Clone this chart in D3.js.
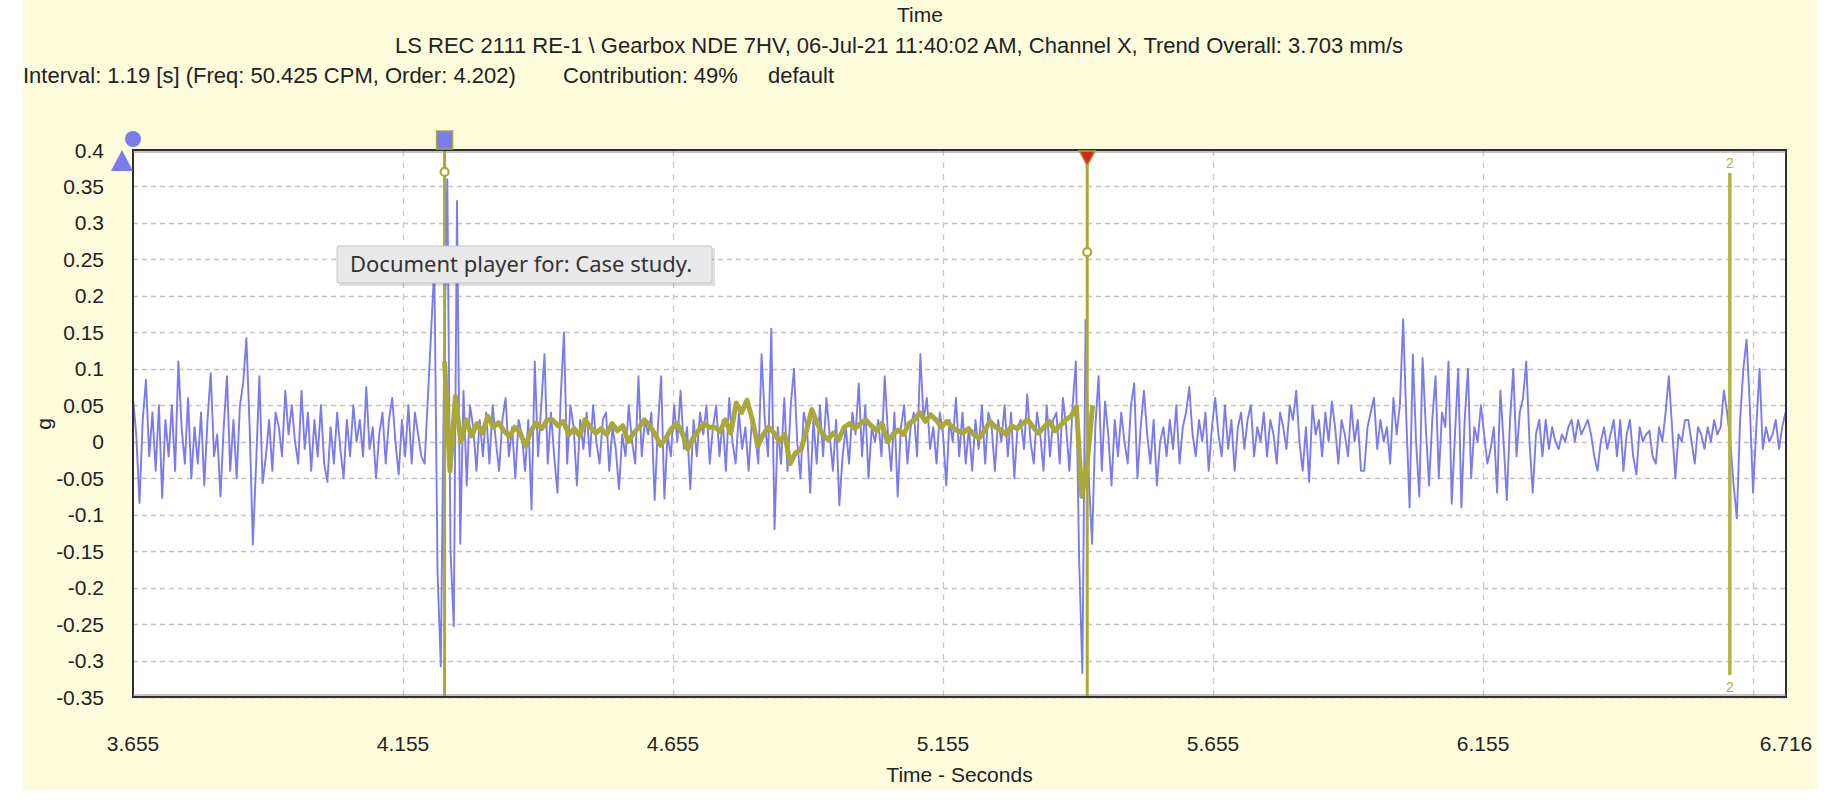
<!DOCTYPE html>
<html>
<head>
<meta charset="utf-8">
<script src="https://cdn.jsdelivr.net/npm/d3@7"></script>
<style>
  body { margin: 0; background: #fff; }
  svg text { font-family: "Liberation Sans", Arial, sans-serif; fill: #222; }
</style>
</head>
<body>
<svg id="chart" width="1830" height="812"></svg>
<script>
// ---- data ----
const titleLines = [
  "Time",
  "LS REC 2111 RE-1 \\ Gearbox NDE 7HV, 06-Jul-21 11:40:02 AM, Channel X, Trend Overall: 3.703 mm/s"
];
const infoParts = ["Interval: 1.19 [s] (Freq: 50.425 CPM, Order: 4.202)", "Contribution: 49%", "default"];
const xTitle = "Time - Seconds";
const yTitle = "g";
const tooltipText = "Document player for: Case study.";

const xDomain = [3.655, 6.716];
const yDomain = [-0.35, 0.4];
const xTickValues = [3.655, 4.155, 4.655, 5.155, 5.655, 6.155, 6.716];
const xTickLabels = ["3.655", "4.155", "4.655", "5.155", "5.655", "6.155", "6.716"];
const xGridValues = [4.155, 4.655, 5.155, 5.655, 6.155, 6.655];
const yTickValues = [0.4, 0.35, 0.3, 0.25, 0.2, 0.15, 0.1, 0.05, 0, -0.05, -0.1, -0.15, -0.2, -0.25, -0.3, -0.35];

// raw waveform, sampled every rawStep seconds from rawStart
const rawStart = 3.655;
const rawStep = 0.006;
const rawSignal = [
  0.06, 0.01, -0.084, 0.03, 0.085, -0.02, 0.04, -0.04, 0.05, -0.077,
  0.03, -0.02, 0.05, -0.04, 0.11, 0.02, -0.03, 0.06, -0.05, 0.02,
  -0.03, 0.04, -0.06, 0.03, 0.094, -0.02, 0.01, -0.075, 0.02, 0.09,
  -0.04, 0.03, -0.05, 0.05, 0.08, 0.142, 0.02, -0.141, -0.03, 0.09,
  -0.057, -0.02, 0.03, -0.04, 0.04, 0.02, -0.02, 0.07, 0.01, 0.05,
  0.0, -0.03, 0.07, -0.01, 0.04, -0.04, 0.03, -0.02, 0.05, -0.03,
  -0.055, 0.02, -0.03, 0.04, -0.01, -0.05, 0.03, -0.02, 0.05, 0.0,
  0.03, -0.02, 0.075, -0.01, 0.02, -0.05, 0.01, 0.04, -0.03, 0.03,
  0.06, 0.0, -0.045, 0.03, -0.02, 0.05, -0.03, 0.04, 0.01, -0.02,
  -0.03, 0.06, 0.15, 0.24, -0.18, -0.308, 0.1, 0.36, -0.15, -0.253,
  0.33, -0.14, 0.07, -0.06, 0.05, 0.02, -0.04, 0.03, -0.02, 0.04,
  -0.03, 0.05, 0.0, -0.04, 0.03, 0.06, -0.02, 0.02, -0.05, 0.03,
  0.01, -0.04, 0.03, -0.093, 0.11, -0.02, 0.05, 0.12, -0.03, 0.04,
  -0.02, -0.07, 0.06, 0.15, -0.03, 0.05, 0.02, -0.06, 0.03, -0.01,
  0.04, -0.02, 0.05, 0.0, -0.03, 0.03, 0.04, -0.04, 0.02, -0.01,
  -0.065, 0.01, -0.02, 0.05, 0.0, -0.03, 0.09, -0.02, 0.03, 0.01,
  0.04, -0.08, 0.02, 0.09, -0.078, 0.01, -0.02, 0.05, 0.0, 0.07,
  -0.01, 0.02, -0.065, 0.03, -0.02, 0.04, 0.01, 0.05, -0.03, 0.02,
  0.05, -0.02, 0.03, -0.04, 0.06, 0.0, -0.03, 0.04, -0.01, 0.02,
  -0.04, 0.03, 0.01, -0.03, 0.12, 0.03, -0.02, 0.155, -0.12, 0.02,
  -0.03, 0.06, -0.04, 0.05, 0.1, 0.0, -0.05, 0.04, 0.02, -0.07,
  0.03, -0.03, 0.05, -0.02, 0.06, 0.01, -0.04, 0.03, -0.087, -0.02,
  0.02, -0.03, 0.04, 0.01, 0.08, -0.02, 0.05, -0.05, 0.02, 0.0,
  0.03, -0.02, 0.09, 0.01, -0.04, 0.04, -0.075, 0.02, 0.05, -0.03,
  0.02, 0.04, -0.02, 0.12, 0.03, 0.06, -0.01, 0.02, -0.03, 0.04,
  0.01, -0.06, 0.03, 0.0, 0.06, -0.02, 0.04, -0.03, 0.02, -0.04,
  0.03, -0.01, 0.05, -0.03, 0.04, 0.02, -0.04, 0.03, 0.0, 0.05,
  -0.02, 0.04, -0.05, 0.02, 0.03, -0.01, 0.065, 0.0, -0.03, 0.04,
  0.01, -0.04, 0.05, -0.02, 0.03, 0.04, -0.03, 0.06, 0.02, -0.04,
  0.05, 0.11, -0.16, -0.317, 0.167, -0.05, -0.14, 0.02, 0.09, -0.04,
  0.055, 0.01, -0.06, 0.03, -0.02, 0.04, 0.0, -0.03, 0.05, 0.08,
  -0.05, 0.02, 0.07, 0.01, -0.03, 0.03, -0.06, 0.0, 0.02, -0.02,
  0.03, -0.01, 0.05, -0.03, 0.02, 0.04, 0.075, 0.01, -0.02, 0.03,
  0.0, 0.04, -0.04, 0.02, 0.06, 0.01, -0.02, 0.05, -0.01, 0.03,
  -0.04, 0.02, 0.04, -0.01, 0.03, 0.05, -0.02, 0.02, 0.0, 0.04,
  -0.02, 0.03, 0.01, -0.03, 0.04, 0.02, -0.01, 0.05, 0.03, 0.07,
  0.0, -0.04, 0.02, -0.055, 0.05, 0.01, 0.03, -0.02, 0.04, 0.0,
  0.055, 0.02, -0.03, 0.03, 0.01, -0.02, 0.05, 0.0, 0.03, -0.04,
  -0.04, 0.02, 0.04, 0.06, -0.01, 0.03, 0.0, 0.02, -0.03, 0.06,
  0.01, 0.05, 0.168, 0.03, -0.09, 0.12, 0.0, -0.075, 0.115, 0.02,
  -0.06, 0.03, 0.09, -0.05, 0.04, 0.02, 0.11, -0.085, 0.01, 0.1,
  -0.09, 0.03, 0.1, -0.05, 0.02, 0.0, 0.05, 0.01, -0.03, -0.01,
  0.02, -0.07, 0.07, 0.0, -0.08, 0.03, 0.1, -0.02, 0.04, 0.06,
  0.11, 0.0, -0.07, 0.01, 0.03, -0.02, 0.03, -0.01, 0.02, 0.0,
  -0.01, 0.01, 0.0, 0.02, 0.03, 0.0, 0.03, 0.01, 0.02, 0.03,
  0.01, -0.02, -0.04, 0.0, 0.02, -0.01, 0.01, 0.03, -0.02, 0.03,
  -0.04, 0.01, 0.03, -0.02, -0.045, 0.02, 0.0, 0.01, 0.015, -0.02,
  -0.03, 0.02, 0.0, 0.04, 0.09, 0.02, -0.05, 0.01, 0.0, 0.03,
  0.03, 0.0, -0.03, 0.02, 0.01, -0.01, 0.02, 0.0, 0.03, 0.01,
  0.02, 0.07, 0.04, 0.0, -0.06, -0.105, 0.03, 0.1, 0.14, 0.05,
  -0.07, 0.02, 0.1, -0.01, 0.02, 0.0, 0.01, 0.03, -0.01, 0.02,
  0.04
];

// averaged waveform between the two cursors
const avgStart = 4.232;
const avgStep = 0.01;
const avgSignal = [
  0.11, -0.04, 0.062, 0.0, 0.03, 0.008, 0.025, 0.012, 0.035, 0.02,
  0.026, 0.015, 0.007, 0.02, 0.012, -0.006, 0.015, 0.026, 0.018, 0.03,
  0.03, 0.022, 0.028, 0.01, 0.018, 0.008, 0.03, 0.02, 0.012, 0.018,
  0.01, 0.025, 0.015, 0.022, 0.0, 0.012, 0.02, 0.03, 0.022, 0.01,
  -0.005, 0.005, 0.018, 0.025, 0.012, -0.01, 0.005, 0.015, 0.025, 0.02,
  0.02, 0.014, 0.03, 0.012, 0.053, 0.04, 0.057, 0.03, -0.006, 0.01,
  0.02, 0.012, 0.0, 0.01, -0.03, -0.015, -0.011, 0.015, 0.044, 0.025,
  0.01, 0.003, 0.012, 0.003, 0.02, 0.025, 0.018, 0.025, 0.03, 0.022,
  0.015, 0.025, 0.0, 0.01, 0.016, 0.01, 0.025, 0.03, 0.04, 0.028,
  0.037, 0.03, 0.02, 0.028, 0.02, 0.015, 0.012, 0.018, 0.01, 0.005,
  0.015, 0.028, 0.02, 0.016, 0.01, 0.022, 0.018, 0.025, 0.03, 0.02,
  0.012, 0.02, 0.028, 0.015, 0.022, 0.03, 0.035, 0.048, -0.075, -0.03,
  0.05
];

const cursorTimes = [4.232, 5.422];
const cursorReadouts = [0.37, 0.26];
const harmonicTimes = [6.612];
const harmonicLabels = ["2"];

// ---- layout ----
const svg = d3.select("#chart");
const plot = { left: 133, right: 1786, top: 150, bottom: 697 };

const x = d3.scaleLinear().domain(xDomain).range([plot.left, plot.right]);
const y = d3.scaleLinear().domain(yDomain).range([plot.bottom, plot.top]);

const olive = "#a9a838";
const blue = "#7b7bf0";

// yellow panel
svg.append("rect")
  .attr("x", 23).attr("y", 0)
  .attr("width", 1795).attr("height", 790)
  .attr("fill", "#fcfcdc");

// titles
svg.append("text").attr("x", 920).attr("y", 22)
  .attr("text-anchor", "middle").style("font-size", "21px").text(titleLines[0]);
svg.append("text").attr("x", 899).attr("y", 53)
  .attr("text-anchor", "middle").style("font-size", "22px").text(titleLines[1]);

let infoX = [23, 563, 768];
infoParts.forEach((s, i) => {
  svg.append("text").attr("x", infoX[i]).attr("y", 83)
    .style("font-size", "22px").text(s);
});

// plot area
svg.append("rect")
  .attr("x", plot.left).attr("y", plot.top)
  .attr("width", plot.right - plot.left).attr("height", plot.bottom - plot.top)
  .attr("fill", "#fff");

svg.append("defs").append("clipPath").attr("id", "clip")
  .append("rect")
  .attr("x", plot.left).attr("y", plot.top)
  .attr("width", plot.right - plot.left).attr("height", plot.bottom - plot.top);

// grid
svg.append("g")
  .selectAll("line")
  .data(yTickValues.filter((v) => v !== yDomain[1]))
  .join("line")
  .attr("x1", plot.left).attr("x2", plot.right)
  .attr("y1", (d) => Math.round(y(d)) + 0.5).attr("y2", (d) => Math.round(y(d)) + 0.5)
  .attr("stroke", "#c4c4c4").attr("stroke-width", 1.3)
  .attr("stroke-dasharray", "5,4");

svg.append("g")
  .selectAll("line")
  .data(xGridValues)
  .join("line")
  .attr("x1", (d) => Math.round(x(d)) + 0.5).attr("x2", (d) => Math.round(x(d)) + 0.5)
  .attr("y1", plot.top).attr("y2", plot.bottom)
  .attr("stroke", "#c8c8c8").attr("stroke-width", 1.3)
  .attr("stroke-dasharray", "6,6");

// signals
const lineGen = d3.line()
  .x((d) => x(d[0]))
  .y((d) => y(d[1]));

const rawPts = rawSignal.map((v, i) => [rawStart + i * rawStep, v]);
const avgPts = avgSignal.map((v, i) => [avgStart + i * avgStep, v]);

const sig = svg.append("g").attr("clip-path", "url(#clip)");
sig.append("path")
  .attr("d", lineGen(rawPts))
  .attr("fill", "none")
  .attr("stroke", blue)
  .attr("stroke-width", 1.9)
  .attr("stroke-linejoin", "round");

sig.append("path")
  .attr("d", lineGen(avgPts))
  .attr("fill", "none")
  .attr("stroke", olive)
  .attr("stroke-width", 5)
  .attr("stroke-linejoin", "round");

// cursors
svg.append("g")
  .selectAll("line")
  .data(cursorTimes)
  .join("line")
  .attr("x1", (d) => x(d)).attr("x2", (d) => x(d))
  .attr("y1", plot.top).attr("y2", plot.bottom)
  .attr("stroke", olive).attr("stroke-width", 3);

svg.append("g")
  .selectAll("circle")
  .data(cursorTimes)
  .join("circle")
  .attr("cx", (d) => x(d))
  .attr("cy", (d, i) => y(cursorReadouts[i]))
  .attr("r", 4)
  .attr("fill", "#fff")
  .attr("stroke", olive).attr("stroke-width", 2.2);

// harmonic marker
const harm = svg.append("g");
harm.selectAll("line")
  .data(harmonicTimes)
  .join("line")
  .attr("x1", (d) => x(d)).attr("x2", (d) => x(d))
  .attr("y1", 173).attr("y2", 675)
  .attr("stroke", "#b3b340").attr("stroke-width", 3.5);
harmonicTimes.forEach((t, i) => {
  harm.append("text").attr("x", x(t)).attr("y", 168)
    .attr("text-anchor", "middle").style("font-size", "14px")
    .style("fill", "#b3b340").text(harmonicLabels[i]);
  harm.append("text").attr("x", x(t)).attr("y", 692)
    .attr("text-anchor", "middle").style("font-size", "14px")
    .style("fill", "#b3b340").text(harmonicLabels[i]);
});

// frame
svg.append("rect")
  .attr("x", plot.left).attr("y", plot.top)
  .attr("width", plot.right - plot.left).attr("height", plot.bottom - plot.top)
  .attr("fill", "none").attr("stroke", "#2e2e2e").attr("stroke-width", 2);
svg.append("line")
  .attr("x1", plot.left).attr("x2", plot.right)
  .attr("y1", plot.top + 2).attr("y2", plot.top + 2)
  .attr("stroke", "#8a8a8a").attr("stroke-width", 1.2);
svg.append("line")
  .attr("x1", plot.left).attr("x2", plot.right)
  .attr("y1", plot.bottom - 2).attr("y2", plot.bottom - 2)
  .attr("stroke", "#8a8a8a").attr("stroke-width", 1.2);

// cursor handles
const sx = x(cursorTimes[0]);
svg.append("rect")
  .attr("x", sx - 8).attr("y", 131)
  .attr("width", 16).attr("height", 18)
  .attr("fill", blue).attr("stroke", olive).attr("stroke-width", 1.5);

const rx = x(cursorTimes[1]);
svg.append("path")
  .attr("d", d3.line()([[rx - 8, plot.top + 1], [rx + 8, plot.top + 1], [rx, plot.top + 16]]) + "Z")
  .attr("fill", "#d8261c").attr("stroke", olive).attr("stroke-width", 1.5);

// left reference markers
svg.append("circle")
  .attr("cx", plot.left).attr("cy", 139).attr("r", 8)
  .attr("fill", blue);
svg.append("path")
  .attr("d", d3.line()([[122, 150], [133, 171], [111, 171]]) + "Z")
  .attr("fill", blue);

// axis labels
svg.append("g")
  .selectAll("text")
  .data(yTickValues)
  .join("text")
  .attr("x", 104)
  .attr("y", (d) => y(d))
  .attr("dy", "0.36em")
  .attr("text-anchor", "end")
  .style("font-size", "21px")
  .text((d) => String(+d.toFixed(2)));

svg.append("g")
  .selectAll("text")
  .data(xTickValues)
  .join("text")
  .attr("x", (d) => x(d))
  .attr("y", 751)
  .attr("text-anchor", "middle")
  .style("font-size", "21px")
  .text((d, i) => xTickLabels[i]);

svg.append("text")
  .attr("x", (plot.left + plot.right) / 2).attr("y", 782)
  .attr("text-anchor", "middle").style("font-size", "21px")
  .text(xTitle);

svg.append("text")
  .attr("transform", "translate(51,424) rotate(-90)")
  .attr("text-anchor", "middle").style("font-size", "21px")
  .text(yTitle);

// tooltip
const tip = svg.append("g").attr("transform", "translate(337,246)");
tip.append("rect")
  .attr("x", 2).attr("y", 2).attr("width", 376).attr("height", 38)
  .attr("fill", "rgba(0,0,0,0.12)");
tip.append("rect")
  .attr("x", 0).attr("y", 0).attr("width", 375).attr("height", 37)
  .attr("rx", 2)
  .attr("fill", "#e9e9eb").attr("stroke", "#c2c2c4");
tip.append("text")
  .attr("x", 13).attr("y", 26)
  .style("font-family", "'Noto Sans', 'Open Sans', sans-serif")
  .style("font-size", "22px")
  .style("fill", "#333")
  .text(tooltipText);
</script>
</body>
</html>
